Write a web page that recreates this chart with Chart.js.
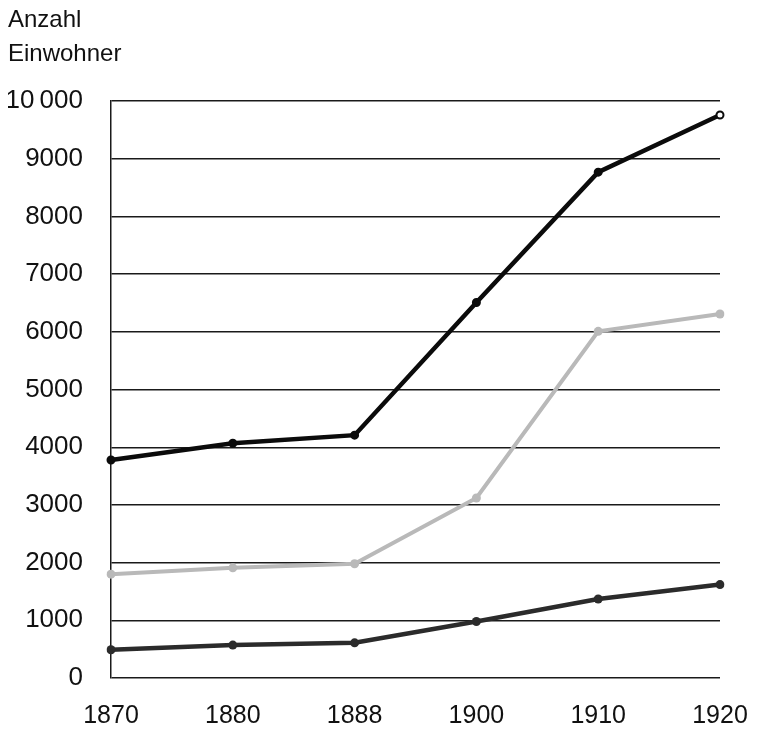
<!DOCTYPE html>
<html lang="de">
<head>
<meta charset="UTF-8">
<title>Anzahl Einwohner 1870-1920</title>
<script src="https://cdn.jsdelivr.net/npm/chart.js"></script>
<style>
  body { margin: 0; background: #fff; }
  #wrap { width: 760px; height: 729px; }
</style>
</head>
<body>
<div id="wrap"><canvas id="einwohnerChart" width="760" height="729"></canvas></div>
<script>
// Jahre (Kategorien)
var jahre = ['1870', '1880', '1888', '1900', '1910', '1920'];

// Werte
var reiheSchwarz = [3780, 4070, 4210, 6510, 8770, 9760];
var reiheGrau = [1800, 1910, 1980, 3120, 6010, 6310];
var reiheDunkel = [490, 570, 610, 980, 1370, 1620];

var titelZeilen = ['Anzahl', 'Einwohner'];
var schrift = "'Liberation Sans', Arial, Helvetica, sans-serif";

var ctx = document.getElementById('einwohnerChart').getContext('2d');

var chart = new Chart(ctx, {
    type: 'line',
    data: {
        labels: jahre,
        datasets: [{
            data: reiheDunkel,
            borderColor: '#2b2b2b',
            backgroundColor: '#2b2b2b',
            pointBackgroundColor: '#2b2b2b',
            borderWidth: 4.5,
            pointRadius: 4.5,
            pointBorderWidth: 0
        }, {
            data: reiheGrau,
            borderColor: '#b9b9b9',
            backgroundColor: '#b9b9b9',
            pointBackgroundColor: '#b9b9b9',
            borderWidth: 4,
            pointRadius: 4.5,
            pointBorderWidth: 0
        }, {
            data: reiheSchwarz,
            borderColor: '#0b0b0b',
            backgroundColor: '#0b0b0b',
            // letzter Punkt offen
            pointBackgroundColor: ['#0b0b0b', '#0b0b0b', '#0b0b0b', '#0b0b0b', '#0b0b0b', '#ffffff'],
            pointBorderColor: '#0b0b0b',
            borderWidth: 4.5,
            pointRadius: 3.5,
            pointBorderWidth: 2
        }]
    },
    options: {
        responsive: false,
        animation: false,
        layout: {
            padding: { left: 8, right: 40, top: 0, bottom: 0 }
        },
        plugins: {
            legend: { display: false },
            tooltip: { enabled: false },
            title: {
                display: true,
                text: titelZeilen,
                align: 'start',
                color: '#111',
                font: { family: schrift, size: 24, weight: 'normal', lineHeight: 1.4 },
                padding: { top: 4, bottom: 30 }
            }
        },
        scales: {
            x: {
                offset: false,
                grid: { display: false, drawTicks: false },
                border: { display: false },
                ticks: {
                    color: '#111',
                    padding: 23,
                    maxRotation: 0,
                    font: { family: schrift, size: 25 }
                },
                afterFit: function (scale) {
                    scale.height = 51;
                    // Beschriftungen duerfen in den Rand ragen
                    scale.paddingLeft = 0;
                    scale.paddingRight = 0;
                }
            },
            y: {
                min: 0,
                max: 10000,
                grid: { color: '#1a1a1a', lineWidth: 1.5, drawTicks: false },
                border: { display: true, color: '#1a1a1a', width: 1.5 },
                ticks: {
                    stepSize: 1000,
                    color: '#111',
                    padding: 28,
                    font: { family: schrift, size: 26 },
                    callback: function (v) { return v === 10000 ? '10\u2009000' : String(v); }
                },
                afterFit: function (scale) { scale.width = 103; }
            }
        }
    }
});
</script>
</body>
</html>
